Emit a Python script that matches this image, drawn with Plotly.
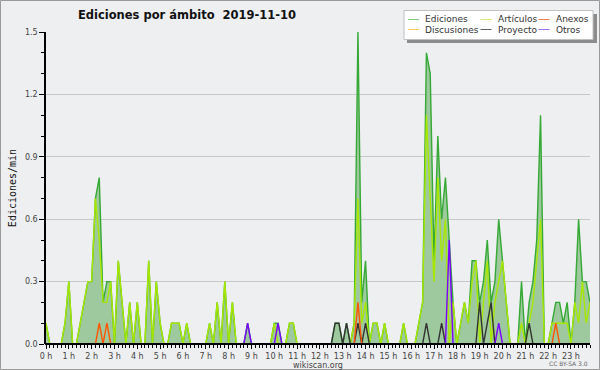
import plotly.graph_objects as go

# ---------------- data (edits per minute, one value per 10-minute slot) ----------------
slot_hours = [i / 6 for i in range(144)]
hour_ticks = list(range(24))
hour_labels = [f"{h} h" for h in hour_ticks]
y_ticks = [0.0, 0.3, 0.6, 0.9, 1.2, 1.5]
y_labels = ["0.0", "0.3", "0.6", "0.9", "1.2", "1.5"]

ediciones = [
    0.1, 0, 0, 0, 0, 0.1, 0.3, 0, 0, 0.1, 0.2, 0.3,
    0.3, 0.7, 0.8, 0.2, 0.3, 0.3, 0, 0.4, 0.2, 0, 0.2, 0,
    0.2, 0, 0, 0.4, 0, 0.3, 0.1, 0, 0, 0.1, 0.1, 0.1,
    0, 0.1, 0, 0, 0, 0, 0, 0.1, 0, 0.2, 0, 0.3,
    0, 0.2, 0, 0, 0, 0.1, 0, 0, 0, 0, 0, 0,
    0.1, 0.1, 0, 0, 0.1, 0.1, 0, 0, 0, 0, 0, 0,
    0, 0, 0, 0, 0.1, 0.1, 0, 0.1, 0, 0.1, 1.5, 0.2,
    0.4, 0, 0.1, 0.1, 0, 0.1, 0, 0, 0, 0, 0.1, 0,
    0, 0, 0.1, 0.2, 1.4, 1.3, 0.4, 1.0, 0.6, 0.8, 0.5, 0.2,
    0, 0.1, 0.2, 0.1, 0.4, 0.4, 0.2, 0.3, 0.5, 0.2, 0.3, 0.6,
    0.4, 0.2, 0, 0, 0, 0.3, 0, 0.2, 0.3, 0.5, 1.1, 0,
    0, 0.1, 0.2, 0.2, 0.1, 0.2, 0, 0.2, 0.6, 0.3, 0.3, 0.2,
]
articulos = [
    0.1, 0, 0, 0, 0, 0.1, 0.3, 0, 0, 0.1, 0.2, 0.3,
    0.3, 0.7, 0.5, 0.2, 0.2, 0.3, 0, 0.4, 0.2, 0, 0.2, 0,
    0.2, 0, 0, 0.4, 0, 0.3, 0.1, 0, 0, 0.1, 0.1, 0.1,
    0, 0.1, 0, 0, 0, 0, 0, 0.1, 0, 0.2, 0, 0.3,
    0, 0.2, 0, 0, 0, 0, 0, 0, 0, 0, 0, 0,
    0.1, 0, 0, 0, 0.1, 0.1, 0, 0, 0, 0, 0, 0,
    0, 0, 0, 0, 0, 0, 0, 0, 0, 0.1, 0.7, 0.1,
    0.2, 0, 0.1, 0.1, 0, 0.1, 0, 0, 0, 0, 0.1, 0,
    0, 0, 0.1, 0.2, 1.1, 0.7, 0.3, 0.8, 0.4, 0.6, 0, 0.2,
    0, 0.1, 0.2, 0.1, 0.3, 0.4, 0, 0.2, 0.4, 0, 0.2, 0.3,
    0.4, 0.2, 0, 0, 0, 0.1, 0, 0.1, 0.2, 0.4, 0.6, 0,
    0, 0.1, 0.1, 0.1, 0.1, 0.1, 0, 0.2, 0.1, 0.3, 0.1, 0.2,
]
discusiones = [0] * 144
anexos = [
    0, 0, 0, 0, 0, 0, 0, 0, 0, 0, 0, 0,
    0, 0, 0.1, 0, 0.1, 0, 0, 0, 0, 0, 0, 0,
    0, 0, 0, 0, 0, 0, 0, 0, 0, 0, 0, 0,
    0, 0, 0, 0, 0, 0, 0, 0, 0, 0, 0, 0,
    0, 0, 0, 0, 0, 0, 0, 0, 0, 0, 0, 0,
    0, 0, 0, 0, 0, 0, 0, 0, 0, 0, 0, 0,
    0, 0, 0, 0, 0, 0, 0, 0, 0, 0, 0.2, 0,
    0, 0, 0, 0, 0, 0, 0, 0, 0, 0, 0, 0,
    0, 0, 0, 0, 0, 0, 0, 0, 0, 0, 0, 0,
    0, 0, 0, 0, 0, 0, 0, 0, 0, 0, 0, 0,
    0, 0, 0, 0, 0, 0, 0, 0, 0, 0, 0, 0,
    0, 0, 0.1, 0, 0, 0, 0, 0, 0, 0, 0, 0,
]
proyecto = [
    0, 0, 0, 0, 0, 0, 0, 0, 0, 0, 0, 0,
    0, 0, 0, 0, 0, 0, 0, 0, 0, 0, 0, 0,
    0, 0, 0, 0, 0, 0, 0, 0, 0, 0, 0, 0,
    0, 0, 0, 0, 0, 0, 0, 0, 0, 0, 0, 0,
    0, 0, 0, 0, 0, 0, 0, 0, 0, 0, 0, 0,
    0, 0, 0, 0, 0, 0, 0, 0, 0, 0, 0, 0,
    0, 0, 0, 0, 0.1, 0.1, 0, 0.1, 0, 0, 0.1, 0,
    0.1, 0, 0, 0, 0, 0, 0, 0, 0, 0, 0, 0,
    0, 0, 0, 0, 0.1, 0, 0, 0, 0.1, 0, 0, 0,
    0, 0, 0, 0, 0, 0, 0.2, 0, 0.1, 0.2, 0, 0,
    0, 0, 0, 0, 0, 0, 0, 0.1, 0, 0, 0, 0,
    0, 0, 0, 0, 0, 0, 0, 0, 0, 0, 0, 0,
]
otros = [
    0, 0, 0, 0, 0, 0, 0, 0, 0, 0, 0, 0,
    0, 0, 0, 0, 0, 0, 0, 0, 0, 0, 0, 0,
    0, 0, 0, 0, 0, 0, 0, 0, 0, 0, 0, 0,
    0, 0, 0, 0, 0, 0, 0, 0, 0, 0, 0, 0,
    0, 0, 0, 0, 0, 0.1, 0, 0, 0, 0, 0, 0,
    0, 0.1, 0, 0, 0, 0, 0, 0, 0, 0, 0, 0,
    0, 0, 0, 0, 0, 0, 0, 0, 0, 0, 0, 0,
    0, 0, 0, 0, 0, 0, 0, 0, 0, 0, 0, 0,
    0, 0, 0, 0, 0, 0, 0, 0, 0, 0, 0.5, 0,
    0, 0, 0, 0, 0, 0, 0, 0, 0, 0, 0, 0.1,
    0, 0, 0, 0, 0, 0, 0, 0, 0, 0, 0, 0,
    0, 0, 0, 0, 0, 0, 0, 0, 0, 0, 0, 0,
]

series_names = ["Ediciones", "Artículos", "Anexos", "Discusiones", "Proyecto", "Otros"]
series_values = [ediciones, articulos, anexos, discusiones, proyecto, otros]
series_colors = ["#34a934", "#a8e800", "#ff5500", "#ffcc00", "#333333", "#7a00ff"]
legend_colors = ["#7fcc7f", "#d4ec80", "#f08050", "#f5d060", "#606060", "#a070f0"]

# ---------------- figure ----------------
W, H = 600, 370
L, R, T, B = 46, 10, 32, 26
PW, PH = W - L - R, H - T - B


def px_x(px):
    return (px - L) / PW


def px_y(py):
    return (H - B - py) / PH


BG = "#eeeff1"
fig = go.Figure()

# filled area under the total
fig.add_trace(go.Scatter(
    x=slot_hours, y=ediciones, mode="lines", fill="tozeroy",
    fillcolor="rgb(158,201,158)", line=dict(width=0, color="rgba(0,0,0,0)"),
    showlegend=False, hoverinfo="skip"))

draw_order = ["Ediciones", "Artículos", "Discusiones", "Proyecto", "Anexos", "Otros"]
for nm in draw_order:
    k = series_names.index(nm)
    fig.add_trace(go.Scatter(
        x=slot_hours, y=series_values[k], mode="lines", name=nm,
        line=dict(color=series_colors[k], width=1.4), showlegend=False))

shapes = []
annotations = []

# baseline drawn above the traces (hides zero-valued segments, as in the original)
shapes.append(dict(type="line", xref="paper", yref="paper",
                   x0=px_x(L - 1), x1=1, y0=0, y1=0,
                   line=dict(color="black", width=2.2), layer="above"))

# outer frame
shapes.append(dict(type="rect", xref="paper", yref="paper",
                   x0=px_x(0.5), x1=px_x(W - 0.5), y0=px_y(H - 0.5), y1=px_y(0.5),
                   line=dict(color="#9a9a9a", width=1), fillcolor="rgba(0,0,0,0)", layer="above"))

# legend box with shadow
shapes.append(dict(type="rect", xref="paper", yref="paper",
                   x0=px_x(407), x1=px_x(597), y0=px_y(43), y1=px_y(14),
                   line=dict(width=0), fillcolor="#8c8c8c", layer="above"))
shapes.append(dict(type="rect", xref="paper", yref="paper",
                   x0=px_x(404), x1=px_x(593), y0=px_y(39.5), y1=px_y(10.5),
                   line=dict(color="#c0c0c0", width=1), fillcolor="white", layer="above"))

col_line_x = [408, 480.5, 538.5]
col_text_x = [423, 496, 554]
row_y = [19.5, 29.5]
for k, nm in enumerate(series_names):
    c, r = k % 3, k // 3
    shapes.append(dict(type="line", xref="paper", yref="paper",
                       x0=px_x(col_line_x[c]), x1=px_x(col_line_x[c] + 11),
                       y0=px_y(row_y[r]), y1=px_y(row_y[r]),
                       line=dict(color=legend_colors[k], width=1), layer="above"))
    annotations.append(dict(text=nm, xref="paper", yref="paper",
                            x=px_x(col_text_x[c]), y=px_y(row_y[r]),
                            xanchor="left", yanchor="middle", showarrow=False,
                            font=dict(family="DejaVu Sans", size=9, color="#333333")))

# licence note
annotations.append(dict(text="CC BY-SA 3.0", xref="paper", yref="paper",
                        x=px_x(590), y=px_y(363), xanchor="right", yanchor="middle",
                        showarrow=False, font=dict(family="DejaVu Sans", size=6, color="#666666")))

fig.update_layout(
    width=W, height=H,
    margin=dict(l=L, r=R, t=T, b=B, pad=0, autoexpand=False),
    paper_bgcolor=BG, plot_bgcolor=BG,
    showlegend=False,
    title=dict(text="<b>Ediciones por ámbito  2019-11-10</b>", x=187 / W, xanchor="center",
               y=1 - 14.5 / H, yanchor="middle",
               font=dict(family="DejaVu Sans", size=11.5, color="#111111")),
    shapes=shapes, annotations=annotations,
    font=dict(family="DejaVu Sans", size=8, color="#444444"),
)

fig.update_xaxes(
    automargin=False,
    range=[0, 143 / 6], tickmode="array", tickvals=hour_ticks, ticktext=hour_labels,
    ticks="outside", ticklen=4, tickwidth=1, tickcolor="black",
    minor=dict(dtick=1 / 6, tick0=0, ticks="outside", ticklen=3, tickcolor="black", showgrid=False),
    showline=False, showgrid=False, zeroline=False,
    tickfont=dict(family="DejaVu Sans", size=8, color="#444444"),
    title=dict(text="wikiscan.org", standoff=0,
               font=dict(family="DejaVu Sans", size=8, color="#444444")),
)
fig.update_yaxes(
    automargin=False,
    range=[0, 1.5], tickmode="array", tickvals=y_ticks, ticktext=y_labels,
    ticks="outside", ticklen=5, tickwidth=1, tickcolor="black",
    minor=dict(dtick=0.1, tick0=0, ticks="outside", ticklen=3, tickcolor="black", showgrid=False),
    showline=True, linecolor="black", linewidth=1.5,
    showgrid=True, gridcolor="#c8c8c8", gridwidth=1, zeroline=False,
    tickfont=dict(family="DejaVu Sans", size=8, color="#444444"),
    title=dict(text="Ediciones/min", standoff=6,
               font=dict(family="DejaVu Sans Mono", size=10, color="#111111")),
)

fig.write_html("out.html", config={"displayModeBar": False},
               post_script="document.body.style.margin='0px';")
